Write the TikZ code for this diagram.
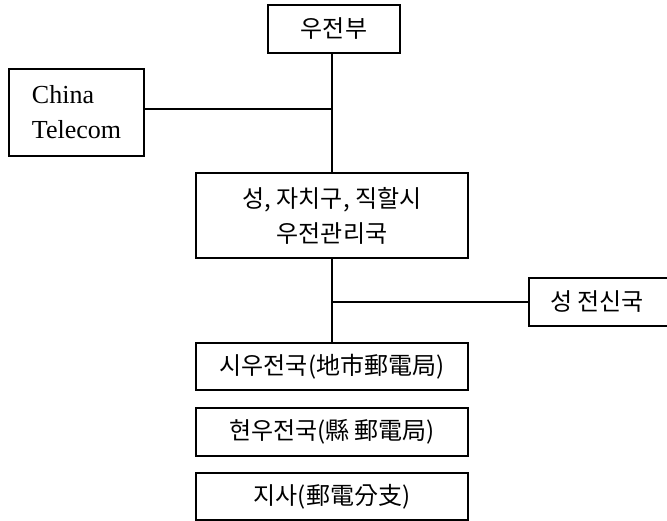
\documentclass[tikz,border=0pt]{standalone}
\usepackage{fontspec}
\setmainfont{Liberation Serif}
\newfontfamily\kr{Noto Sans CJK KR}
\begin{document}
\begin{tikzpicture}[x=1pt,y=-1pt,
  box/.style={draw=black, line width=1.1pt, inner sep=0pt, font=\kr\fontsize{24}{35}\selectfont, align=center},
  conn/.style={draw=black, line width=1.5pt}]
\useasboundingbox (0,0) rectangle (667,521);
\node[box, minimum width=132pt, minimum height=48pt] (top) at (334,29) {우전부};
\node[box, minimum width=135pt, minimum height=87pt, align=left, font=\fontsize{26}{35}\selectfont] (ct) at (76.5,112.5) {China\\Telecom};
\node[box, minimum width=272pt, minimum height=85pt] (mid) at (332,215.5) {성, 자치구, 직할시\\우전관리국};
\node[box, minimum width=200pt, minimum height=48pt] (tel) at (629,302) {성 전신국\hspace{64pt}};
\node[box, minimum width=272pt, minimum height=47pt] (si) at (332,366.5) {시우전국(地市郵電局)};
\node[box, minimum width=272pt, minimum height=48pt] (hyeon) at (332,432) {현우전국(縣 郵電局)};
\node[box, minimum width=272pt, minimum height=47pt] (jisa) at (332,496.5) {지사(郵電分支)};
\coordinate (j1) at (332,109);
\coordinate (j2) at (332,302);
\draw[conn] (top.south -| mid.north) -- (mid.north);
\draw[conn] (j1) -- (j1 -| ct.east);
\draw[conn] (mid.south) -- (si.north);
\draw[conn] (j2) -- (j2 -| tel.west);
\end{tikzpicture}
\end{document}
